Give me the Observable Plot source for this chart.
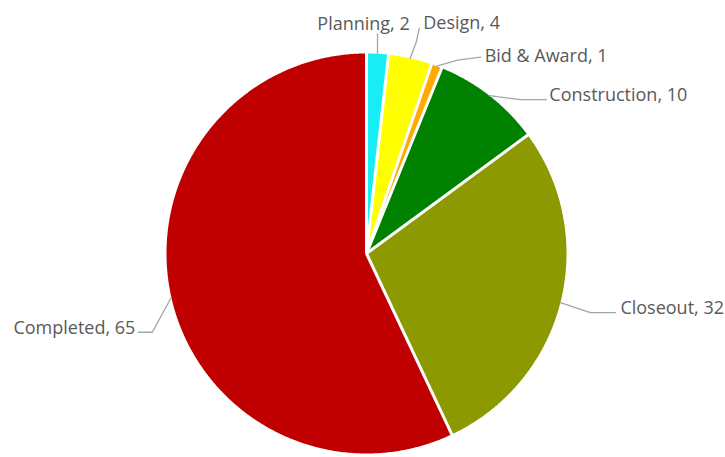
<!DOCTYPE html>
<html><head><meta charset="utf-8">
<script src="https://cdn.jsdelivr.net/npm/d3@7"></script>
<script src="https://cdn.jsdelivr.net/npm/@observablehq/plot@0.6"></script>
<style>body{margin:0;background:#fff}</style></head>
<body><div id="chart"></div>
<script>
// ---- data ----
const categories = ["Planning", "Design", "Bid & Award", "Construction", "Closeout", "Completed"];
const values = [2, 4, 1, 10, 32, 65];
const colors = ["#18ECF4", "#FFFF00", "#FFAA00", "#008200", "#8C9900", "#C00000"];

// ---- layout (pixels) ----
const W = 725, H = 457, CX = 366, CY = 253, R = 200;
const leaderElbow = [[0, -20], [6, -16], [21, -6], [31, 4], [30, 10], [-19, 35]];
const leaderEnd   = [[0, -20], [9, -30], [44, -9], [57, 4], [55, 10], [-33, 35]];
const textOffset  = [[-14, -30], [13, -35], [48, -10], [60, 0], [60, 6], [-36, 31]];
const textAnchor  = ["middle", "start", "start", "start", "start", "end"];

const arcs = d3.pie().sort(null).value(d => d)(values);
const pt = (a, r) => ({x: r * Math.sin(a), y: -r * Math.cos(a)});

const slices = arcs.map((a, i) => {
  const pts = [{x: 0, y: 0}];
  const n = Math.max(4, Math.ceil((a.endAngle - a.startAngle) / (Math.PI / 360)));
  for (let k = 0; k <= n; k++) pts.push(pt(a.startAngle + (a.endAngle - a.startAngle) * k / n, R));
  pts.push({x: 0, y: 0});
  return {pts, color: colors[i]};
});

const seps = arcs.map(a => { const p = pt(a.startAngle, R + 1); return {x1: 0, y1: 0, x2: p.x, y2: p.y}; });

const labels = arcs.map((a, i) => {
  const mid = (a.startAngle + a.endAngle) / 2;
  const e = pt(mid, R);
  return {
    leader: [e,
      {x: e.x + leaderElbow[i][0], y: e.y + leaderElbow[i][1]},
      {x: e.x + leaderEnd[i][0], y: e.y + leaderEnd[i][1]}],
    tx: e.x + textOffset[i][0], ty: e.y + textOffset[i][1],
    text: `${categories[i]}, ${values[i]}`, anchor: textAnchor[i]
  };
});

const chart = Plot.plot({
  width: W, height: H, margin: 0,
  x: {domain: [-CX, W - CX], range: [0, W], axis: null},
  y: {domain: [-CY, H - CY], range: [0, H], axis: null},
  style: {background: "#fff"},
  marks: [
    ...slices.map(s => Plot.line(s.pts, {x: "x", y: "y", fill: s.color, stroke: "none"})),
    Plot.link(seps, {x1: "x1", y1: "y1", x2: "x2", y2: "y2", stroke: "white", strokeWidth: 3}),
    ...labels.map(l => Plot.line(l.leader, {x: "x", y: "y", stroke: "#A5A5A5", strokeWidth: 1.3})),
    ...labels.map(l => Plot.text([l], {x: "tx", y: "ty", text: "text", textAnchor: l.anchor,
      fill: "#595959", fontSize: 18, fontFamily: "Open Sans"}))
  ]
});
document.getElementById("chart").append(chart);
</script>
</body></html>
